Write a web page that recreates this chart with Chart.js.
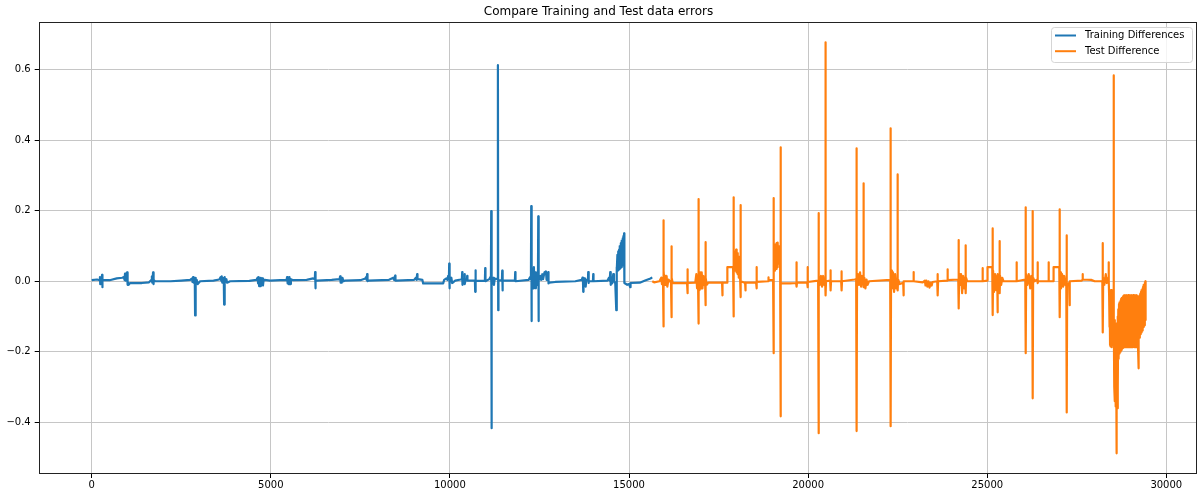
<!DOCTYPE html>
<html>
<head>
<meta charset="utf-8">
<script src="https://cdn.jsdelivr.net/npm/chart.js@4.4.1/dist/chart.umd.min.js"></script>
<style>
  body { margin: 0; background: #fff; }
  #errChart { display: block; }
</style>
</head>
<body>
<canvas id="errChart" width="1198" height="494"></canvas>
<script>
const chartTitle = "Compare Training and Test data errors";
const seriesLabels = ["Training Differences", "Test Difference"];

const xTicks = [0, 5000, 10000, 15000, 20000, 25000, 30000];
const xTickLabels = ["0", "5000", "10000", "15000", "20000", "25000", "30000"];
const yTicks = [-0.4, -0.2, 0, 0.2, 0.4, 0.6];
const yTickLabels = ["\u22120.4", "\u22120.2", "0.0", "0.2", "0.4", "0.6"];

// training error [index, difference]
const trainPoints = [
    [0, 0.003], [150, 0.005], [222, 0.003], [230, 0.012], [238, -0.008], [250, 0.006], [280, 0.004],
    [288, 0.018], [296, -0.017], [304, 0.004], [320, 0.003], [500, 0.003], [700, 0.008], [850, 0.010],
    [900, 0.012], [915, 0.004], [930, 0.022], [945, 0.002], [960, 0.015], [978, 0.004], [986, 0.025],
    [994, -0.010], [1010, -0.002], [1030, -0.010], [1070, -0.005], [1400, -0.005], [1600, -0.003],
    [1670, 0.004], [1680, 0.014], [1690, -0.004], [1704, 0.010], [1712, 0.025], [1720, -0.008],
    [1735, 0.004], [1768, 0.000], [2200, 0.000], [2500, 0.002], [2750, 0.004], [2800, 0.008],
    [2815, -0.002], [2830, 0.012], [2845, -0.004], [2860, 0.008], [2878, -0.002], [2886, -0.097],
    [2894, 0.010], [2910, -0.010], [2930, 0.004], [2960, -0.008], [3025, 0.000], [3400, 0.002],
    [3560, 0.005], [3600, 0.012], [3615, 0.002], [3630, 0.014], [3645, -0.004], [3660, 0.010],
    [3688, -0.002], [3696, -0.066], [3704, 0.012], [3720, -0.004], [3760, 0.006], [3780, -0.004],
    [3863, 0.000], [4400, 0.001], [4600, 0.004], [4630, 0.010], [4645, -0.006], [4660, 0.012],
    [4675, -0.014], [4690, 0.006], [4705, -0.014], [4720, 0.010], [4740, -0.008], [4760, 0.008],
    [4780, -0.012], [4800, 0.004], [4830, 0.004], [4980, 0.002], [5260, 0.003], [5440, 0.004],
    [5455, 0.012], [5470, -0.006], [5485, 0.010], [5500, -0.008], [5520, 0.012], [5540, -0.008],
    [5560, 0.006], [5623, 0.003], [6000, 0.004], [6180, 0.008], [6229, 0.006], [6237, 0.026],
    [6245, -0.020], [6253, 0.002], [6290, 0.002], [6700, 0.004], [6920, 0.006], [6935, 0.014],
    [6950, -0.004], [6965, 0.010], [6980, -0.004], [7000, 0.010], [7030, 0.000], [7075, 0.002],
    [7500, 0.003], [7640, 0.008], [7660, 0.012], [7675, 0.004], [7689, 0.020], [7700, 0.000],
    [7720, 0.002], [8300, 0.004], [8420, 0.010], [8440, 0.004], [8463, 0.008], [8471, 0.016],
    [8480, 0.002], [8500, 0.002], [9000, 0.004], [9050, 0.010], [9070, 0.004], [9078, 0.014],
    [9086, 0.020], [9095, 0.006], [9110, 0.006], [9230, 0.004], [9253, -0.006], [9812, -0.006],
    [9840, 0.004], [9900, 0.008], [9930, 0.004], [9951, 0.015], [9972, 0.008], [9980, 0.050],
    [9988, -0.020], [9996, 0.010], [10020, 0.000], [10040, 0.010], [10063, -0.005], [10147, 0.002],
    [10300, 0.005], [10335, 0.006], [10343, 0.026], [10351, -0.010], [10370, 0.004], [10402, 0.006],
    [10410, 0.020], [10418, -0.008], [10440, 0.004], [10474, 0.004], [10482, 0.015], [10490, 0.002],
    [10698, 0.002], [10706, -0.030], [10714, 0.031], [10722, 0.001], [10977, 0.002], [10985, 0.037],
    [10993, 0.000], [11100, 0.006], [11130, 0.012], [11145, 0.004], [11153, 0.199], [11161, -0.417],
    [11169, 0.012], [11190, -0.006], [11210, 0.010], [11230, -0.010], [11250, 0.008], [11280, 0.006],
    [11332, 0.008], [11340, 0.613], [11348, -0.082], [11356, 0.003], [11452, 0.002], [11460, 0.030],
    [11468, -0.026], [11476, 0.002], [11815, 0.002], [11823, 0.026], [11831, 0.000], [12200, 0.004],
    [12240, 0.012], [12262, 0.006], [12270, 0.213], [12278, -0.113], [12286, 0.030], [12300, -0.015],
    [12315, 0.035], [12330, -0.020], [12345, 0.040], [12360, -0.015], [12380, 0.025], [12400, -0.020],
    [12420, 0.020], [12440, -0.010], [12458, 0.010], [12466, 0.184], [12474, -0.113], [12482, 0.010],
    [12500, 0.005], [12530, 0.015], [12550, 0.004], [12580, 0.020], [12600, 0.006], [12640, 0.025],
    [12680, 0.028], [12700, 0.004], [12737, 0.004], [12745, 0.026], [12753, -0.006], [12770, -0.004],
    [12940, -0.002], [13500, 0.000], [13680, 0.004], [13700, 0.010], [13714, 0.002], [13722, -0.030],
    [13730, 0.010], [13750, -0.012], [13770, 0.008], [13790, -0.015], [13810, 0.004], [13853, 0.002],
    [13861, 0.026], [13869, -0.005], [13880, 0.000], [13993, 0.000], [14001, 0.020], [14009, 0.000],
    [14400, 0.002], [14440, 0.010], [14460, 0.002], [14476, 0.026], [14490, -0.010], [14510, 0.010],
    [14530, -0.006], [14560, 0.020], [14580, 0.000], [14616, -0.005], [14636, -0.005], [14644, -0.082],
    [14652, 0.040], [14664, 0.030], [14676, 0.075], [14688, 0.030], [14700, 0.085], [14712, 0.032],
    [14724, 0.090], [14736, 0.035], [14748, 0.100], [14760, 0.038], [14772, 0.108], [14784, 0.040],
    [14796, 0.115], [14808, 0.045], [14820, 0.122], [14832, 0.050], [14844, 0.128], [14856, 0.055],
    [14862, 0.136], [14867, 0.110], [14875, -0.005], [14950, -0.010], [15000, -0.008], [15027, -0.008],
    [15035, -0.017], [15043, -0.005], [15300, -0.004], [15450, 0.002], [15600, 0.008], [15649, 0.011]
];

// test error [index, difference]
const testPoints = [
    [15649, 0.000], [15700, -0.003], [15850, 0.000], [15900, 0.010], [15920, -0.008], [15949, 0.004],
    [15957, 0.173], [15965, -0.128], [15973, 0.030], [15990, -0.010], [16010, 0.015], [16030, -0.010],
    [16050, 0.015], [16070, -0.015], [16100, 0.005], [16173, -0.004], [16181, 0.099], [16189, -0.102],
    [16197, 0.010], [16220, -0.005], [16600, -0.005], [16620, -0.004], [16628, 0.034], [16636, -0.034],
    [16644, -0.005], [16850, -0.004], [16880, 0.020], [16900, -0.020], [16927, 0.000], [16935, 0.233],
    [16943, -0.120], [16951, 0.030], [16970, -0.025], [16990, 0.025], [17010, -0.020], [17030, 0.025],
    [17050, -0.020], [17075, 0.015], [17100, -0.010], [17123, 0.004], [17131, 0.111], [17139, -0.068],
    [17147, 0.010], [17170, -0.010], [17215, -0.004], [17598, -0.004], [17606, -0.040], [17614, -0.004],
    [17738, -0.004], [17746, 0.040], [17906, 0.040], [17914, 0.238], [17922, -0.100], [17930, 0.060],
    [17945, 0.030], [17960, 0.085], [17975, 0.030], [17990, 0.090], [18005, 0.025], [18020, 0.080],
    [18035, 0.020], [18050, 0.070], [18065, 0.010], [18080, 0.060], [18101, 0.010], [18109, 0.216],
    [18117, -0.045], [18125, 0.000], [18230, -0.004], [18241, -0.004], [18249, -0.026], [18257, -0.004],
    [18548, -0.003], [18556, 0.040], [18564, -0.020], [18572, -0.002], [18883, 0.000], [18891, 0.011],
    [18899, 0.003], [19023, 0.004], [19031, 0.236], [19039, -0.204], [19047, 0.040], [19060, 0.100],
    [19075, 0.030], [19090, 0.105], [19105, 0.035], [19120, 0.108], [19135, 0.040], [19150, 0.110],
    [19165, 0.050], [19180, 0.100], [19195, 0.060], [19210, 0.090], [19219, 0.040], [19227, 0.380],
    [19235, -0.383], [19243, -0.006], [19300, -0.006], [19500, -0.006], [19666, -0.005], [19674, 0.054],
    [19682, -0.015], [19690, -0.004], [19973, -0.003], [19981, 0.040], [19989, -0.017], [19997, -0.002],
    [20280, 0.002], [20288, 0.193], [20296, -0.431], [20304, 0.010], [20330, -0.010], [20360, 0.015],
    [20390, -0.015], [20420, 0.015], [20450, -0.010], [20476, 0.006], [20484, 0.678], [20492, -0.040],
    [20500, 0.000], [20616, 0.002], [20624, 0.031], [20632, -0.026], [20640, 0.000], [20923, 0.000],
    [20931, 0.028], [20939, -0.026], [20947, 0.000], [21300, 0.005], [21342, 0.006], [21350, 0.377],
    [21358, -0.425], [21366, 0.015], [21390, 0.020], [21420, -0.010], [21450, 0.025], [21480, -0.015],
    [21510, 0.015], [21538, 0.004], [21546, 0.278], [21554, -0.017], [21570, 0.010], [21600, -0.020],
    [21630, 0.005], [21660, -0.010], [21700, 0.000], [22292, 0.004], [22300, 0.434], [22308, -0.411],
    [22316, 0.030], [22340, -0.020], [22370, 0.025], [22400, -0.030], [22430, 0.020], [22460, -0.020],
    [22488, 0.006], [22496, 0.303], [22504, -0.026], [22512, 0.005], [22560, -0.008], [22655, -0.004],
    [22663, -0.040], [22671, 0.000], [22935, 0.000], [22943, 0.026], [22951, 0.000], [23200, -0.003],
    [23260, 0.002], [23278, -0.012], [23300, 0.002], [23330, -0.015], [23360, 0.000], [23390, -0.018],
    [23420, -0.004], [23450, -0.012], [23473, -0.002], [23605, 0.000], [23613, 0.020], [23621, -0.040],
    [23629, 0.000], [23884, 0.002], [23892, 0.034], [23900, 0.003], [24192, 0.005], [24200, 0.117],
    [24208, -0.077], [24216, 0.020], [24240, -0.010], [24270, 0.020], [24300, -0.034], [24330, 0.015],
    [24360, -0.020], [24387, 0.010], [24395, 0.102], [24403, -0.034], [24411, 0.010], [24440, 0.000],
    [24862, 0.000], [24870, 0.037], [24878, 0.000], [25001, 0.002], [25009, 0.040], [25141, 0.040],
    [25149, 0.150], [25157, -0.096], [25165, 0.030], [25190, -0.030], [25220, 0.020], [25250, -0.025],
    [25280, 0.015], [25288, -0.088], [25296, 0.020], [25336, 0.010], [25344, 0.114], [25352, -0.034],
    [25360, 0.015], [25390, -0.010], [25420, 0.010], [25456, 0.000], [25811, 0.000], [25819, 0.054],
    [25827, 0.000], [26063, 0.005], [26071, 0.210], [26079, -0.204], [26087, 0.020], [26120, -0.010],
    [26160, 0.020], [26200, -0.020], [26230, 0.015], [26258, 0.005], [26266, 0.199], [26274, -0.332],
    [26282, 0.010], [26320, 0.000], [26398, 0.005], [26406, 0.054], [26414, -0.005], [26422, 0.000],
    [26705, 0.000], [26713, 0.054], [26721, 0.000], [26845, 0.000], [26853, 0.040], [27012, 0.040],
    [27020, 0.204], [27028, -0.102], [27036, 0.025], [27060, -0.020], [27090, 0.020], [27120, -0.015],
    [27150, 0.015], [27180, -0.010], [27208, 0.004], [27216, 0.130], [27224, -0.372], [27232, -0.010],
    [27292, -0.004], [27300, -0.068], [27308, 0.000], [27640, 0.002], [27655, 0.004], [27663, 0.020],
    [27671, 0.005], [27900, 0.004], [28000, 0.000], [28214, 0.000], [28222, 0.108], [28230, -0.145],
    [28238, 0.010], [28270, -0.010], [28310, 0.020], [28340, -0.005], [28381, 0.010], [28389, 0.054],
    [28397, 0.000], [28404, -0.040], [28412, -0.130], [28420, -0.025], [28430, -0.180], [28440, -0.030],
    [28450, -0.185], [28460, -0.025], [28470, -0.187], [28480, -0.040], [28490, -0.180], [28500, -0.050],
    [28510, -0.170], [28521, -0.100], [28529, 0.584], [28537, -0.100], [28547, -0.300], [28557, -0.110],
    [28567, -0.340], [28577, -0.120], [28587, -0.355], [28597, -0.130], [28607, -0.360], [28612, -0.488],
    [28620, -0.120], [28630, -0.360], [28640, -0.100], [28650, -0.300], [28660, -0.080], [28668, -0.220],
    [28680, -0.065], [28690, -0.205], [28700, -0.060], [28710, -0.200], [28720, -0.055], [28730, -0.200],
    [28740, -0.050], [28750, -0.195], [28760, -0.048], [28770, -0.190], [28780, -0.045], [28790, -0.190],
    [28800, -0.042], [28810, -0.188], [28820, -0.040], [28830, -0.187], [28840, -0.040], [28850, -0.186],
    [28860, -0.040], [28870, -0.187], [28880, -0.040], [28890, -0.185], [28900, -0.040], [28910, -0.187],
    [28920, -0.040], [28930, -0.186], [28940, -0.040], [28950, -0.187], [28960, -0.040], [28970, -0.185],
    [28980, -0.040], [28990, -0.187], [29000, -0.040], [29010, -0.186], [29020, -0.040], [29030, -0.187],
    [29040, -0.040], [29050, -0.185], [29060, -0.040], [29070, -0.187], [29080, -0.040], [29090, -0.186],
    [29100, -0.040], [29110, -0.187], [29120, -0.040], [29130, -0.185], [29140, -0.040], [29150, -0.187],
    [29160, -0.040], [29170, -0.186], [29180, -0.040], [29190, -0.187], [29200, -0.042], [29210, -0.185],
    [29220, -0.045], [29227, -0.247], [29235, -0.045], [29245, -0.160], [29255, -0.040], [29265, -0.155],
    [29275, -0.035], [29285, -0.150], [29295, -0.030], [29305, -0.145], [29315, -0.025], [29325, -0.140],
    [29335, -0.020], [29345, -0.135], [29355, -0.015], [29365, -0.130], [29375, -0.010], [29385, -0.125],
    [29395, -0.005], [29405, -0.120], [29415, 0.000], [29422, -0.110]
];

const xMin = -1480, xMax = 30857;
const yMin = -0.5467, yMax = 0.7354;

// box round the axes plus a legend in the upper right
const frameAndLegend = {
    id: "frameAndLegend",
    afterDatasetsDraw(chart) {
        const ctx = chart.ctx;
        const a = chart.chartArea;
        ctx.save();
        ctx.strokeStyle = "#222";
        ctx.lineWidth = 1;
        ctx.strokeRect(Math.round(a.left) + 0.5, Math.round(a.top) + 0.5,
            Math.round(a.right - a.left) - 1, Math.round(a.bottom - a.top) - 1);

        const bx = a.right - 146, by = a.top + 5, bw = 141, bh = 35;
        ctx.beginPath();
        ctx.roundRect(bx + 0.5, by + 0.5, bw, bh, 3);
        ctx.fillStyle = "rgba(255,255,255,0.8)";
        ctx.fill();
        ctx.strokeStyle = "#d5d5d5";
        ctx.stroke();

        ctx.font = "10px 'DejaVu Sans'";
        ctx.textBaseline = "middle";
        chart.data.datasets.forEach(function(ds, i) {
            const ly = by + 8.5 + i * 15.7;
            ctx.beginPath();
            ctx.moveTo(bx + 4, ly);
            ctx.lineTo(bx + 25, ly);
            ctx.strokeStyle = ds.borderColor;
            ctx.lineWidth = 2;
            ctx.stroke();
            ctx.fillStyle = "#000";
            ctx.fillText(ds.label, bx + 34, ly);
        });
        ctx.restore();
    }
};

function toXY(points) {
    return points.map(function(p) { return { x: p[0], y: p[1] }; });
}

function lineSet(label, points, color) {
    return {
        label: label,
        data: toXY(points),
        borderColor: color,
        borderWidth: 2.2,
        borderJoinStyle: "round",
        pointRadius: 0,
        tension: 0,
        fill: false
    };
}

new Chart(document.getElementById("errChart"), {
    type: "line",
    data: {
        datasets: [
            lineSet(seriesLabels[0], trainPoints, "#1f77b4"),
            lineSet(seriesLabels[1], testPoints, "#ff7f0e")
        ]
    },
    options: {
        responsive: false,
        animation: false,
        devicePixelRatio: 1,
        layout: { padding: { left: 0, right: 1, top: 0, bottom: 0 } },
        plugins: {
            legend: { display: false },
            tooltip: { enabled: false },
            title: {
                display: true,
                text: chartTitle,
                color: "#000",
                font: { family: "'DejaVu Sans'", size: 12, weight: "normal" },
                padding: { top: 4.5, bottom: 3.1 }
            }
        },
        scales: {
            x: {
                type: "linear",
                min: xMin,
                max: xMax,
                afterBuildTicks: function(scale) {
                    scale.ticks = xTicks.map(function(v) { return { value: v }; });
                },
                afterFit: function(scale) { scale.height = 20; },
                ticks: {
                    color: "#000",
                    font: { family: "'DejaVu Sans'", size: 10 },
                    padding: 1,
                    maxRotation: 0,
                    callback: function(v, i) { return xTickLabels[i]; }
                },
                grid: { color: "#c6c6c6", lineWidth: 1, tickColor: "#000", tickLength: 4 },
                border: { display: false }
            },
            y: {
                type: "linear",
                min: yMin,
                max: yMax,
                afterBuildTicks: function(scale) {
                    scale.ticks = yTicks.map(function(v) { return { value: v }; });
                },
                afterFit: function(scale) { scale.width = 38.7; },
                ticks: {
                    color: "#000",
                    font: { family: "'DejaVu Sans'", size: 10 },
                    padding: 4,
                    callback: function(v, i) { return yTickLabels[i]; }
                },
                grid: { color: "#c6c6c6", lineWidth: 1, tickColor: "#000", tickLength: 4 },
                border: { display: false }
            }
        }
    },
    plugins: [frameAndLegend]
});
</script>
</body>
</html>
